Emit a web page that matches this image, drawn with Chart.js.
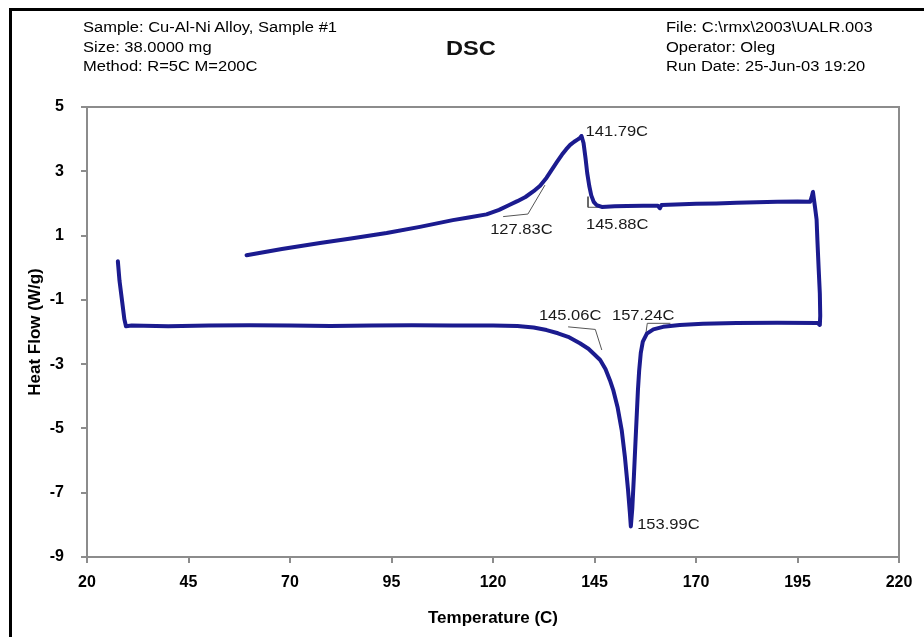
<!DOCTYPE html>
<html>
<head>
<meta charset="utf-8">
<script src="https://cdn.jsdelivr.net/npm/chart.js@4/dist/chart.umd.min.js"></script>
<style>
  body { margin: 0; background: #fff; font-family: "Liberation Sans", Arial, sans-serif; }
  #wrap { position: relative; width: 924px; height: 637px; overflow: hidden; }
  #frame { position: absolute; left: 9px; top: 8px; right: 0; bottom: 0; border-top: 3px solid #000; border-left: 3px solid #000; }
  .hdr { position: absolute; font-size: 14px; line-height: 19.5px; color: #000; transform: scaleX(1.18); transform-origin: left top; white-space: nowrap; }
  #dsc { position: absolute; left: 446px; top: 37px; font-size: 20px; font-weight: bold; color: #111; transform: scaleX(1.18); transform-origin: left top; }
  canvas { position: absolute; left: 0; top: 0; }
</style>
</head>
<body>
<div id="wrap">
  <canvas id="dscChart" width="924" height="637"></canvas>
  <div id="frame"></div>
  <div class="hdr" style="left:83px; top:18px;">Sample: Cu-Al-Ni Alloy, Sample #1<br>Size: 38.0000 mg<br>Method: R=5C M=200C</div>
  <div id="dsc">DSC</div>
  <div class="hdr" style="left:666px; top:18px;">File: C:\rmx\2003\UALR.003<br>Operator: Oleg<br>Run Date: 25-Jun-03 19:20</div>
</div>
<script>
// heating run (lower trace)
const heatTemp = [27.6, 28.0, 28.6, 29.2, 29.6, 31, 40, 50, 60, 70, 80, 90, 100, 110, 120, 126, 130, 133.2, 136, 138.5, 141.4, 143.5, 145, 146.4, 147.7, 148.8, 149.6, 150.7, 151.7, 152.5, 153.25, 153.7, 153.95, 154.3, 154.7, 155.1, 155.4, 155.7, 156.0, 156.4, 156.9, 157.9, 159.5, 161.9, 166, 171.7, 180, 190, 200, 200.5];
const heatFlow = [0.2, -0.4, -1.0, -1.6, -1.82, -1.80, -1.82, -1.80, -1.79, -1.80, -1.81, -1.80, -1.79, -1.80, -1.80, -1.81, -1.86, -1.94, -2.04, -2.15, -2.35, -2.52, -2.7, -2.87, -3.15, -3.5, -3.8, -4.35, -5.05, -5.9, -6.9, -7.6, -8.05, -7.5, -6.5, -5.4, -4.6, -3.8, -3.2, -2.65, -2.3, -2.05, -1.92, -1.84, -1.78, -1.74, -1.72, -1.71, -1.72, -1.78];

// cooling run (upper trace)
const coolTemp = [200.5, 200.6, 200.5, 200.2, 199.9, 199.7, 199.3, 198.8, 198.5, 198.1, 195, 190, 185, 180, 175, 170, 165, 161.5, 161.1, 160.6, 157, 153, 150, 146.8, 145.5, 144.8, 144.2, 143.7, 143.2, 142.8, 142.3, 141.8, 141.5, 141.0, 140.0, 139.0, 138.0, 137.0, 135.8, 134.5, 133.2, 131.6, 130, 128, 126, 124, 121.5, 118.4, 114, 110.1, 102, 93.8, 85, 77.4, 68, 59.3];
const coolFlow = [-1.78, -1.5, -0.8, 0.0, 0.86, 1.5, 1.9, 2.36, 2.2, 2.05, 2.06, 2.05, 2.04, 2.02, 2.0, 1.99, 1.97, 1.95, 1.85, 1.93, 1.93, 1.92, 1.91, 1.89, 1.95, 2.05, 2.25, 2.55, 2.95, 3.4, 3.88, 4.1, 4.05, 4.0, 3.92, 3.82, 3.68, 3.52, 3.3, 3.05, 2.8, 2.55, 2.38, 2.2, 2.07, 1.95, 1.8, 1.66, 1.56, 1.48, 1.27, 1.08, 0.91, 0.77, 0.58, 0.39];

// onset tangent construction lines
const tangentTemp = [[122.5, 128.6, 132.8], [143.4, 143.4, 146.4], [138.5, 145.2, 146.8], [157.6, 158.0, 163.7]];
const tangentFlow = [[1.59, 1.67, 2.57], [2.21, 1.88, 1.88], [-1.84, -1.92, -2.56], [-2.1, -1.73, -1.73]];

// peak / onset labels
const labelText = ["141.79C", "127.83C", "145.88C", "145.06C", "157.24C", "153.99C"];
const labelTemp = [142.8, 119.3, 142.9, 131.3, 149.3, 155.5];
const labelFlow = [4.23, 1.17, 1.34, -1.5, -1.5, -8.0];

const xTicks = [20, 45, 70, 95, 120, 145, 170, 195, 220];
const yTicks = [5, 3, 1, -1, -3, -5, -7, -9];

const axisGray = "#8c8c8c";
const traceBlue = "#1b1b8f";

function toPoints(xs, ys) {
  return xs.map((x, i) => ({ x: x, y: ys[i] }));
}

const datasets = [{
  data: toPoints(heatTemp.concat(coolTemp), heatFlow.concat(coolFlow)),
  borderColor: traceBlue,
  borderWidth: 4,
  borderJoinStyle: "round",
  borderCapStyle: "round",
  showLine: true,
  pointRadius: 0,
  order: 1
}];
tangentTemp.forEach((t, i) => {
  datasets.push({
    data: toPoints(t, tangentFlow[i]),
    borderColor: "#555",
    borderWidth: 1,
    showLine: true,
    pointRadius: 0,
    order: 2
  });
});

const frameAndLabels = {
  id: "frameAndLabels",
  beforeDatasetsDraw(chart) {
    const a = chart.chartArea;
    const ctx = chart.ctx;
    ctx.save();
    ctx.strokeStyle = axisGray;
    ctx.lineWidth = 2;
    ctx.strokeRect(a.left, a.top, a.right - a.left, a.bottom - a.top);
    ctx.restore();
  },
  afterDatasetsDraw(chart) {
    const ctx = chart.ctx;
    const xs = chart.scales.x, ys = chart.scales.y;
    ctx.save();
    ctx.fillStyle = "#1a1a1a";
    ctx.font = '14px "Liberation Sans", Arial, sans-serif';
    ctx.textBaseline = "middle";
    labelText.forEach((txt, i) => {
      ctx.save();
      ctx.translate(xs.getPixelForValue(labelTemp[i]), ys.getPixelForValue(labelFlow[i]));
      ctx.scale(1.18, 1);
      ctx.fillText(txt, 0, 0);
      ctx.restore();
    });
    ctx.restore();
  }
};

new Chart(document.getElementById("dscChart"), {
  type: "scatter",
  data: { datasets: datasets },
  options: {
    responsive: false,
    animation: false,
    devicePixelRatio: 1,
    layout: { padding: { top: 107, left: 25, right: 25, bottom: 0 } },
    plugins: { legend: { display: false }, tooltip: { enabled: false } },
    scales: {
      x: {
        type: "linear",
        min: 20, max: 220,
        afterBuildTicks: s => { s.ticks = xTicks.map(v => ({ value: v })); },
        afterFit: s => { s.height = 80; },
        ticks: { color: "#000", font: { family: "Liberation Sans", size: 16, weight: "bold" }, padding: 10, maxRotation: 0 },
        grid: { drawOnChartArea: false, color: axisGray, lineWidth: 2, tickLength: 6 },
        border: { color: axisGray, width: 2 },
        title: { display: true, text: "Temperature (C)", color: "#000", font: { family: "Liberation Sans", size: 17, weight: "bold" }, padding: { top: 0, bottom: 8 } }
      },
      y: {
        type: "linear",
        min: -9, max: 5,
        afterBuildTicks: s => { s.ticks = yTicks.map(v => ({ value: v })); },
        afterFit: s => { s.width = 62; },
        ticks: { color: "#000", font: { family: "Liberation Sans", size: 16, weight: "bold" }, padding: 17 },
        grid: { drawOnChartArea: false, color: axisGray, lineWidth: 2, tickLength: 6 },
        border: { color: axisGray, width: 2 },
        title: { display: true, text: "Heat Flow (W/g)", color: "#000", font: { family: "Liberation Sans", size: 17, weight: "bold" }, padding: { top: 0, bottom: 0 } }
      }
    }
  },
  plugins: [frameAndLabels]
});
</script>
</body>
</html>
